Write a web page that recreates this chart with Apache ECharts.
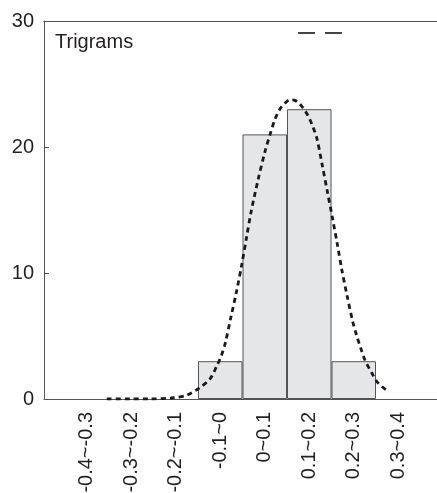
<!DOCTYPE html>
<html>
<head>
<meta charset="utf-8">
<script src="https://cdn.jsdelivr.net/npm/echarts@6/dist/echarts.min.js"></script>
<style>
  html, body { margin: 0; padding: 0; background: #fff; }
  #chart { width: 437px; height: 493px; }
</style>
</head>
<body>
<div id="chart"></div>
<script>
// Histogram bins of the trigram score and their counts
const categories = ['-0.4~-0.3', '-0.3~-0.2', '-0.2~-0.1', '-0.1~0', '0~0.1', '0.1~0.2', '0.2~0.3', '0.3~0.4'];
const counts = [0, 0, 0, 3, 21, 23, 3, 0];

// Fitted density curve (score, count)
const fitX = [-0.305, -0.253, -0.208, -0.156, -0.125, -0.096, -0.073, -0.058, -0.048, -0.039, -0.026, -0.013, -0.002,
  0.009, 0.019, 0.035, 0.051, 0.062, 0.073, 0.084, 0.096, 0.107, 0.118, 0.129, 0.140, 0.147, 0.156, 0.167, 0.179,
  0.191, 0.202, 0.213, 0.223, 0.235, 0.248, 0.256, 0.266, 0.275, 0.290, 0.304, 0.327];
const fitY = [0, 0, 0, 0.1, 0.3, 0.9, 1.6, 2.6, 3.4, 4.4, 6.5, 8.6, 10.6,
  12.8, 14.8, 17.4, 19.7, 21.0, 22.2, 23.0, 23.5, 23.75, 23.7, 23.4, 22.9, 22.5, 21.8, 20.7, 18.6,
  16.4, 14.4, 12.3, 10.3, 8.2, 6.1, 5.1, 4.0, 3.1, 2.1, 1.3, 0.6];

const yMin = 0, yMax = 30, yStep = 10;
const fitPoints = fitX.map((x, i) => [x, fitY[i]]);
// empty bins get no outline so only the axis line shows there
const barData = counts.map(v => ({ value: v, itemStyle: { borderWidth: v > 0 ? 1 : 0 } }));

const font = 'Liberation Sans, Arial, Helvetica, sans-serif';
const ink = '#231f20';
const frame = '#555555';

const chart = echarts.init(document.getElementById('chart'), null, { renderer: 'canvas' });
chart.setOption({
  animation: false,
  backgroundColor: '#ffffff',
  title: {
    text: 'Trigrams',
    left: 50, top: 27,
    textStyle: { fontFamily: font, fontSize: 20, fontWeight: 'normal', color: ink }
  },
  legend: {
    left: 298, top: 32, padding: 0,
    itemWidth: 44, itemHeight: 2, itemGap: 0,
    formatter: () => '',
    selectedMode: false,
    data: [{
      name: 'Normal fit',
      icon: 'path://M0,0H17V2H0Z M27,0H44V2H27Z',
      itemStyle: { color: '#444', borderWidth: 0 }
    }]
  },
  grid: [
    // outer frame with the count axis
    { left: 44, right: 0, top: 21, bottom: 94, outerBoundsMode: 'none', containLabel: false },
    // bins area
    { left: 64.5, right: 16.5, top: 21, bottom: 94, outerBoundsMode: 'none', containLabel: false }
  ],
  xAxis: [
    {
      gridIndex: 0, type: 'value', min: 0, max: 1, position: 'bottom',
      axisLine: { show: true, lineStyle: { color: frame, width: 1 } },
      axisTick: { show: false }, axisLabel: { show: false }, splitLine: { show: false }
    },
    {
      gridIndex: 0, type: 'value', min: 0, max: 1, position: 'top',
      axisLine: { show: true, lineStyle: { color: frame, width: 1 } },
      axisTick: { show: false }, axisLabel: { show: false }, splitLine: { show: false }
    },
    {
      gridIndex: 1, type: 'category', data: categories, boundaryGap: true,
      axisLine: { show: false }, axisTick: { show: false }, splitLine: { show: false },
      axisLabel: {
        rotate: 90, margin: 13, interval: 0,
        fontFamily: font, fontSize: 20, color: ink
      }
    },
    {
      gridIndex: 1, type: 'value', min: -0.4, max: 0.4, show: false
    }
  ],
  yAxis: [
    {
      gridIndex: 0, type: 'value', min: yMin, max: yMax, interval: yStep,
      axisLine: { show: true, lineStyle: { color: frame, width: 1 } },
      axisTick: { show: true, inside: true, length: 5, lineStyle: { color: frame } },
      axisLabel: { fontFamily: font, fontSize: 20, color: ink, margin: 10 },
      splitLine: { show: false }
    },
    {
      gridIndex: 1, type: 'value', min: yMin, max: yMax, interval: yStep, show: false
    }
  ],
  series: [
    {
      name: 'Counts',
      type: 'bar',
      xAxisIndex: 2, yAxisIndex: 1,
      data: barData,
      barWidth: '100%',
      itemStyle: { color: '#e5e6e8', borderColor: '#555' },
      silent: true
    },
    {
      name: 'Normal fit',
      type: 'line',
      xAxisIndex: 3, yAxisIndex: 1,
      data: fitPoints,
      smooth: 0.3,
      showSymbol: false,
      lineStyle: { color: '#1a1a1a', width: 2.8, type: [5, 4] },
      z: 5,
      silent: true
    }
  ]
});
</script>
</body>
</html>
